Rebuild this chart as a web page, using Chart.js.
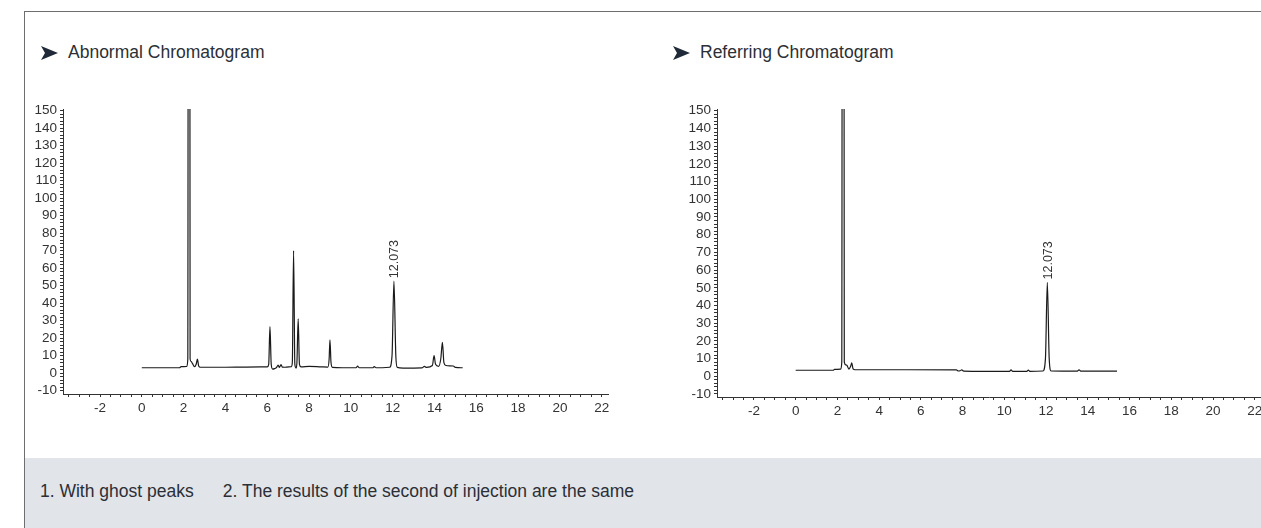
<!DOCTYPE html>
<html>
<head>
<meta charset="utf-8">
<script src="https://cdn.jsdelivr.net/npm/chart.js@4/dist/chart.umd.min.js"></script>
<style>
  body { margin: 0; width: 1261px; height: 528px; overflow: hidden; background: #fff; position: relative;
         font-family: 'Liberation Sans', Arial, sans-serif; color: #2b2f36; }
  .frame { position: absolute; left: 24px; top: 11px; width: 1400px; height: 600px;
           border-top: 1px solid #6e6e6e; border-left: 1px solid #6e6e6e; }
  .band { position: absolute; left: 25px; top: 458px; width: 1400px; height: 80px; background: #e1e4e8; }
  .note { position: absolute; left: 40px; top: 481px; font-size: 17.5px; white-space: pre; }
  .title { position: absolute; top: 42px; font-size: 17.5px; white-space: nowrap; }
  .title svg { position: absolute; left: -27px; top: 4px; }
  canvas { position: absolute; }
</style>
</head>
<body>
<div class="frame"></div>
<div class="band"></div>
<div class="note">1. With ghost peaks      2. The results of the second of injection are the same</div>
<div class="title" style="left:68px"><svg width="17" height="14"><polygon points="0,0 17,7 0,14 4,7" fill="#1f2937"/></svg>Abnormal Chromatogram</div>
<div class="title" style="left:700px"><svg width="17" height="14"><polygon points="0,0 17,7 0,14 4,7" fill="#1f2937"/></svg>Referring Chromatogram</div>
<canvas id="left" width="600" height="345" style="left:20px;top:95px"></canvas>
<canvas id="right" width="600" height="345" style="left:674px;top:95px"></canvas>
<script>
// retention time (min) and detector signal
const abnormalTime = [0.00, 1.80, 1.88, 2.15, 2.20, 2.255, 2.31, 2.36, 2.42, 2.52, 2.60, 2.66, 2.72, 2.80, 4.00, 5.00, 6.00,
  6.07, 6.13, 6.19, 6.26, 6.35, 6.45, 6.52, 6.58, 6.66, 6.72, 6.85, 7.15, 7.20, 7.26, 7.32, 7.38, 7.42, 7.48, 7.54, 7.62,
  8.00, 8.60, 8.90, 8.96, 9.00, 9.05, 9.12, 9.60, 10.25, 10.32, 10.40, 11.05, 11.12, 11.20, 11.85, 11.97, 12.06, 12.15,
  12.22, 12.50, 13.40, 13.52, 13.62, 13.90, 13.98, 14.05, 14.20, 14.30, 14.38, 14.45, 14.55, 14.90, 15.00, 15.35];
const abnormalSignal = [3.0, 3.0, 3.6, 3.8, 8, 1000, 8, 6.5, 5.5, 3.6, 5, 8, 4, 3.3, 3.3, 3.4, 3.5,
  5, 26.5, 5, 2.2, 2.5, 3.2, 4.5, 3.2, 4.8, 3.4, 3.3, 3.6, 6, 70, 5, 2.8, 6, 31, 5, 3.5,
  3.8, 3.5, 3.4, 8, 19, 6, 3.2, 3.0, 3.0, 3.9, 3.0, 3.0, 3.7, 3.0, 3.3, 10, 52.5, 10,
  3.2, 2.8, 2.9, 3.8, 3.2, 4.3, 10, 5, 3.8, 8, 17.5, 6, 4.3, 4.0, 3.2, 3.0];

const referringTime = [0.00, 1.80, 1.86, 2.15, 2.21, 2.265, 2.33, 2.40, 2.46, 2.55, 2.63, 2.69, 2.75, 2.85, 5.00, 7.70,
  7.80, 7.88, 7.96, 8.05, 9.00, 10.25, 10.32, 10.40, 11.08, 11.15, 11.22, 11.85, 11.97, 12.06, 12.15, 12.24, 13.50,
  13.58, 13.66, 15.40];
const referringSignal = [3.4, 3.4, 3.9, 4.0, 8, 1000, 8, 6.5, 6.2, 4.0, 5.5, 7.6, 4.2, 3.7, 3.7, 3.6,
  3.0, 3.1, 3.6, 2.9, 2.8, 2.8, 3.6, 2.8, 2.8, 3.5, 2.8, 3.0, 10, 53, 10, 3.0, 2.9,
  3.7, 2.9, 2.9];

const peakLabels = [12.073];
const xTickValues = [];
for (let i = -7; i <= 44; i++) xTickValues.push(i / 2);
const yTickValues = [];
for (let v = -10; v <= 150; v += 2) yTickValues.push(v);

const fontFamily = "'Liberation Sans', Arial, sans-serif";

const annotate = {
  id: 'annotate',
  afterDatasetsDraw(chart, args, opts) {
    const ctx = chart.ctx;
    const xs = chart.scales.x, ys = chart.scales.y;
    ctx.save();
    ctx.fillStyle = '#333';
    // peak retention time labels
    ctx.font = '12.5px ' + fontFamily;
    const pts = chart.data.datasets[0].data;
    peakLabels.forEach(t => {
      let top = pts.filter(p => Math.abs(p.x - t) < 0.2).reduce((a, b) => (b.y > a.y ? b : a));
      const px = xs.getPixelForValue(top.x), py = ys.getPixelForValue(top.y);
      ctx.save();
      ctx.translate(px + 1, py - 3);
      ctx.rotate(-Math.PI / 2);
      ctx.textAlign = 'left';
      ctx.textBaseline = 'middle';
      ctx.fillText(t.toFixed(3), 0, 0);
      ctx.restore();
    });
    // axis title
    ctx.font = '13px ' + fontFamily;
    ctx.textAlign = 'center';
    ctx.textBaseline = 'middle';
    ctx.fillText('Time (min)', xs.getPixelForValue(opts.titleAt), xs.bottom + opts.titleDy);
    ctx.restore();
  }
};

function makeChart(id, time, signal, o) {
  return new Chart(document.getElementById(id), {
    type: 'line',
    data: {
      datasets: [{
        data: time.map((t, i) => ({ x: t, y: signal[i] })),
        borderColor: '#1a1a1a',
        borderWidth: 1.2,
        pointRadius: 0,
        cubicInterpolationMode: 'monotone',
        fill: false
      }]
    },
    options: {
      responsive: false,
      animation: false,
      devicePixelRatio: 1,
      layout: { padding: { top: 14, right: o.padRight, left: 0, bottom: 0 } },
      plugins: { legend: { display: false }, tooltip: { enabled: false }, annotate: { titleAt: o.titleAt, titleDy: o.titleDy } },
      scales: {
        x: {
          type: 'linear', min: -3.77, max: 22.3,
          afterBuildTicks: s => { s.ticks = xTickValues.map(v => ({ value: v })); },
          afterFit: s => { s.height = o.xHeight; },
          ticks: { autoSkip: false, maxRotation: 0, padding: 3, color: '#333', font: { family: fontFamily, size: 13.5 },
                   callback: v => (v % 2 === 0 ? v : '') },
          grid: { drawOnChartArea: false, tickLength: 3, tickColor: '#333' },
          border: { color: '#333', width: 1 }
        },
        y: {
          min: o.yMin, max: 151,
          afterBuildTicks: s => { s.ticks = yTickValues.map(v => ({ value: v })); },
          afterFit: s => { s.width = 43; },
          ticks: { autoSkip: false, padding: 3, color: '#333', font: { family: fontFamily, size: 13.5 },
                   callback: v => (v % 10 === 0 ? v : '') },
          grid: { drawOnChartArea: false, tickLength: 3, tickColor: '#333' },
          border: { color: '#333', width: 1 }
        }
      }
    },
    plugins: [annotate]
  });
}

makeChart('left', abnormalTime, abnormalSignal, { padRight: 12, xHeight: 46, yMin: -12, titleAt: 18.1, titleDy: 32 });
makeChart('right', referringTime, referringSignal, { padRight: 13, xHeight: 43, yMin: -11.7, titleAt: 19.75, titleDy: 29 });
</script>
</body>
</html>
